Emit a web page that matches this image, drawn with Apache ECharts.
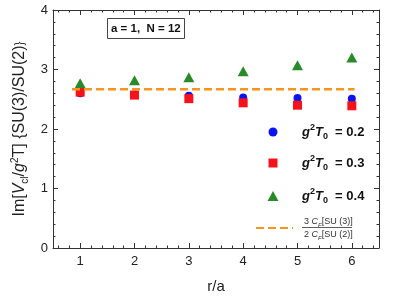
<!DOCTYPE html>
<html><head><meta charset="utf-8">
<script src="https://cdn.jsdelivr.net/npm/echarts@6/dist/echarts.min.js"></script>
<style>html,body{margin:0;padding:0;background:#fff}#c{width:399px;height:299px}</style>
</head><body><div id="c"></div>
<script>
const rValues = [1, 2, 3, 4, 5, 6];
const g02 = [2.60, 2.58, 2.56, 2.53, 2.52, 2.51];
const g03 = [2.62, 2.57, 2.51, 2.44, 2.40, 2.39];
const g04 = [2.77, 2.82, 2.87, 2.97, 3.07, 3.20];
const casimirRatio = 2.667;
const ratioSpan = [0.85, 6.05];
const yTicks = [0, 1, 2, 3, 4];
const names = ['g02', 'g03', 'g04', 'ratio'];

const FONT = '"Liberation Sans", Arial, sans-serif';
const pts = vals => rValues.map((r, i) => [r, vals[i]]);
const frame = '#333';

const richLegend = {
  i: {fontFamily: FONT, fontSize: 13, fontWeight: 'bold', fontStyle: 'italic', color: '#111', lineHeight: 18},
  sup: {fontFamily: FONT, fontSize: 9, fontWeight: 'bold', color: '#111', verticalAlign: 'top', lineHeight: 10},
  sub: {fontFamily: FONT, fontSize: 9, fontWeight: 'bold', color: '#111', verticalAlign: 'bottom', lineHeight: 10},
  b: {fontFamily: FONT, fontSize: 13, fontWeight: 'bold', color: '#111', lineHeight: 18},
  f: {fontFamily: FONT, fontSize: 9, color: '#333', lineHeight: 13},
  fs: {fontFamily: FONT, fontSize: 6, fontStyle: 'italic', color: '#333', lineHeight: 13, verticalAlign: 'bottom'},
  fi: {fontFamily: FONT, fontSize: 9, fontStyle: 'italic', color: '#333', lineHeight: 13}
};
const legendLabel = {
  g02: '{i|g}{sup|2}{i|T}{sub|0}{b|  = 0.2}',
  g03: '{i|g}{sup|2}{i|T}{sub|0}{b|  = 0.3}',
  g04: '{i|g}{sup|2}{i|T}{sub|0}{b|  = 0.4}',
  ratio: '{f|3 }{fi|C}{fs|F}{f|[SU (3)]}\n{f|2 }{fi|C}{fs|F}{f|[SU (2)]}'
};
// [left, top, iconW, iconH, textPadLeft]
const legendBoxes = [
  [268.5, 123, 9, 9, 19.5],
  [268.5, 154, 9, 9, 19.5],
  [267.5, 187, 11, 10, 18.5],
  [255, 217, 37, 12, 6]
];

function mkLegend(name, b) {
  const o = {
    data: [name], left: b[0], top: b[1], padding: 0, itemWidth: b[2], itemHeight: b[3],
    selectedMode: false,
    formatter: n => legendLabel[n],
    textStyle: {padding: [0, 0, 0, b[4]], rich: richLegend}
  };
  if (name === 'ratio') o.itemStyle = {color: 'rgba(0,0,0,0)', opacity: 0, borderWidth: 0};
  return o;
}

const chart = echarts.init(document.getElementById('c'), null, {renderer: 'canvas'});
const xBase = {
  type: 'value', min: 0.5, max: 6.5, splitNumber: 6,
  axisLine: {show: true, onZero: false, lineStyle: {color: frame, width: 1}},
  axisTick: {show: true, inside: true, length: 5, lineStyle: {color: frame}},
  minorTick: {show: true, splitNumber: 5, length: 2.5, lineStyle: {color: frame}},
  splitLine: {show: false}
};
const yBase = {
  type: 'value', min: 0, max: 4, interval: 1,
  axisLine: {show: true, onZero: false, lineStyle: {color: frame, width: 1}},
  axisTick: {show: true, inside: true, length: 5, lineStyle: {color: frame}},
  minorTick: {show: true, splitNumber: 5, length: 2.5, lineStyle: {color: frame}},
  splitLine: {show: false}
};

chart.setOption({
  animation: false,
  backgroundColor: '#fff',
  title: {
    text: 'a = 1,  N = 12', left: 107, top: 18, padding: [5, 4, 4, 4],
    borderColor: '#444', borderWidth: 1,
    textStyle: {fontFamily: FONT, fontSize: 11.5, fontWeight: 'bold', color: '#111'}
  },
  grid: {left: 53, right: 20, top: 10, bottom: 45, containLabel: false},
  xAxis: [
    Object.assign({}, xBase, {
      position: 'bottom',
      name: 'r/a', nameLocation: 'middle', nameGap: 31,
      nameTextStyle: {fontFamily: FONT, fontSize: 15, color: '#222'},
      axisLabel: {show: true, margin: 7, fontFamily: FONT, fontSize: 13, color: '#222',
        formatter: v => (Math.abs(v - Math.round(v)) < 1e-9 ? String(Math.round(v)) : '')}
    }),
    Object.assign({}, xBase, {position: 'top', axisLabel: {show: false}})
  ],
  yAxis: [
    Object.assign({}, yBase, {
      position: 'left',
      name: '{t|Im[}{it|V}{sb|cl}{t|/}{it|g}{sp|2}{t|T] {SU(3)/SU(2)}}',
      nameLocation: 'middle', nameGap: 7, nameRotate: 90,
      nameTextStyle: {rich: {
        t: {fontFamily: FONT, fontSize: 16, color: '#222', lineHeight: 20},
        it: {fontFamily: FONT, fontSize: 16, fontStyle: 'italic', color: '#222', lineHeight: 20},
        sb: {fontFamily: FONT, fontSize: 10, color: '#222', verticalAlign: 'bottom', lineHeight: 10},
        sp: {fontFamily: FONT, fontSize: 10, color: '#222', verticalAlign: 'top', lineHeight: 10}
      }},
      axisLabel: {show: true, margin: 5, fontFamily: FONT, fontSize: 13, color: '#222',
        formatter: v => (yTicks.indexOf(v) >= 0 ? String(v) : '')}
    }),
    Object.assign({}, yBase, {position: 'right', axisLabel: {show: false}})
  ],
  legend: names.map((n, i) => mkLegend(n, legendBoxes[i])),
  series: [
    {name: 'g02', type: 'scatter', symbol: 'circle', symbolSize: 8,
      itemStyle: {color: '#0a14f0', opacity: 1}, data: pts(g02), z: 2},
    {name: 'g03', type: 'scatter', symbol: 'rect', symbolSize: 9,
      itemStyle: {color: '#f5121a', opacity: 1}, data: pts(g03), z: 3},
    {name: 'g04', type: 'scatter', symbol: 'triangle', symbolSize: [11, 10],
      itemStyle: {color: '#2a8a2a', opacity: 1}, data: pts(g04), z: 4},
    {name: 'ratio', type: 'line', symbol: 'none', showSymbol: false,
      lineStyle: {color: '#f7931e', width: 2.5, type: [8, 4]},
      itemStyle: {color: '#f7931e'},
      data: ratioSpan.map(x => [x, casimirRatio]), z: 5}
  ],
  graphic: [
    {type: 'line', shape: {x1: 302, y1: 227.5, x2: 352, y2: 227.5},
      style: {stroke: '#333', lineWidth: 0.8}, silent: true}
  ]
});
</script></body></html>
